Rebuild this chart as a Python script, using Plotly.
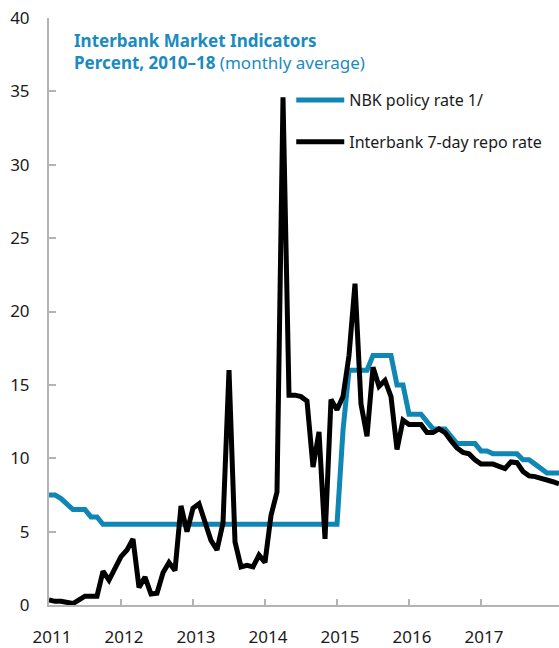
import plotly.graph_objects as go

# monthly observations, first point sits on the "2011" tick
year_labels = ["2011", "2012", "2013", "2014", "2015", "2016", "2017"]
year_ticks = [0, 12, 24, 36, 48, 60, 72]

policy_rate = [
    7.5, 7.5, 7.25, 6.9, 6.5, 6.5, 6.5, 6.0, 6.0, 5.5,
    5.5, 5.5, 5.5, 5.5, 5.5, 5.5, 5.5, 5.5, 5.5, 5.5,
    5.5, 5.5, 5.5, 5.5, 5.5, 5.5, 5.5, 5.5, 5.5, 5.5,
    5.5, 5.5, 5.5, 5.5, 5.5, 5.5, 5.5, 5.5, 5.5, 5.5,
    5.5, 5.5, 5.5, 5.5, 5.5, 5.5, 5.5, 5.5, 5.5, 11.9,
    16.0, 16.0, 16.0, 16.0, 17.0, 17.0, 17.0, 17.0, 15.0, 15.0,
    13.0, 13.0, 13.0, 12.5, 12.0, 12.0, 12.0, 11.5, 11.0, 11.0,
    11.0, 11.0, 10.5, 10.5, 10.3, 10.3, 10.3, 10.3, 10.3, 9.9,
    9.9, 9.6, 9.3, 9.0, 9.0, 9.0,
]

repo_rate = [
    0.35, 0.25, 0.25, 0.15, 0.1, 0.35, 0.6, 0.6, 0.6, 2.3,
    1.7, 2.5, 3.3, 3.75, 4.5, 1.2, 1.9, 0.75, 0.8, 2.2,
    2.9, 2.35, 6.75, 5.0, 6.6, 6.9, 5.6, 4.4, 3.75, 5.6,
    16.0, 4.3, 2.6, 2.7, 2.6, 3.4, 2.9, 6.1, 7.7, 34.6,
    14.3, 14.3, 14.2, 13.9, 9.4, 11.8, 4.5, 14.0, 13.3, 14.2,
    17.0, 21.9, 13.7, 11.5, 16.2, 14.9, 15.3, 14.2, 10.6, 12.6,
    12.3, 12.3, 12.3, 11.75, 11.75, 12.0, 11.75, 11.2, 10.7, 10.4,
    10.3, 9.9, 9.6, 9.6, 9.6, 9.45, 9.3, 9.75, 9.7, 9.1,
    8.8, 8.75, 8.65, 8.55, 8.4, 8.25,
]

months = list(range(len(repo_rate)))

BLUE = "#0f86b4"
TITLE_BLUE = "#1a8bc0"
AXIS_GREY = "#b4b4b4"
FONT = "Noto Sans"

fig = go.Figure()
fig.add_trace(go.Scatter(
    x=months, y=policy_rate, mode="lines", name="NBK policy rate 1/",
    legendgroup="a", line=dict(color=BLUE, width=5),
))
fig.add_trace(go.Scatter(
    x=months, y=repo_rate, mode="lines", name="Interbank 7-day repo rate",
    legendgroup="b", line=dict(color="black", width=5),
))

fig.add_annotation(
    xref="paper", yref="paper", x=0.045, y=0.984, xanchor="left", yanchor="top",
    align="left", showarrow=False,
    text="<b>Interbank Market Indicators</b><br><b>Percent, 2010\u201318</b> (monthly average)",
    font=dict(family=FONT, size=17, color=TITLE_BLUE),
)

fig.update_layout(
    width=559, height=648,
    margin=dict(l=49, r=0, t=18, b=43),
    plot_bgcolor="white", paper_bgcolor="white",
    font=dict(family=FONT, size=17, color="#1a1a1a"),
    showlegend=True,
    legend=dict(
        x=0.475, y=0.889, xanchor="left", yanchor="top",
        bgcolor="rgba(0,0,0,0)", font=dict(size=16, color="#1a1a1a"),
        tracegroupgap=18, itemwidth=48,
    ),
)
fig.update_xaxes(
    range=[0, 85], tickvals=year_ticks, ticktext=year_labels,
    showgrid=False, zeroline=False, showline=True, linecolor=AXIS_GREY, linewidth=2,
    ticks="inside", ticklen=6, tickcolor=AXIS_GREY, tickwidth=1.5,
    ticklabelstandoff=16, ticklabelshift=3,
)
fig.update_yaxes(
    range=[0, 40], dtick=5,
    showgrid=False, zeroline=False, showline=True, linecolor=AXIS_GREY, linewidth=2,
    ticks="inside", ticklen=7, tickcolor=AXIS_GREY, tickwidth=1.5,
    ticklabelstandoff=14,
)

# drop the default page margin so the figure sits at the window's corner
fig.write_html(
    "out.html",
    config={"displayModeBar": False},
    post_script="document.body.style.margin='0px';",
)
